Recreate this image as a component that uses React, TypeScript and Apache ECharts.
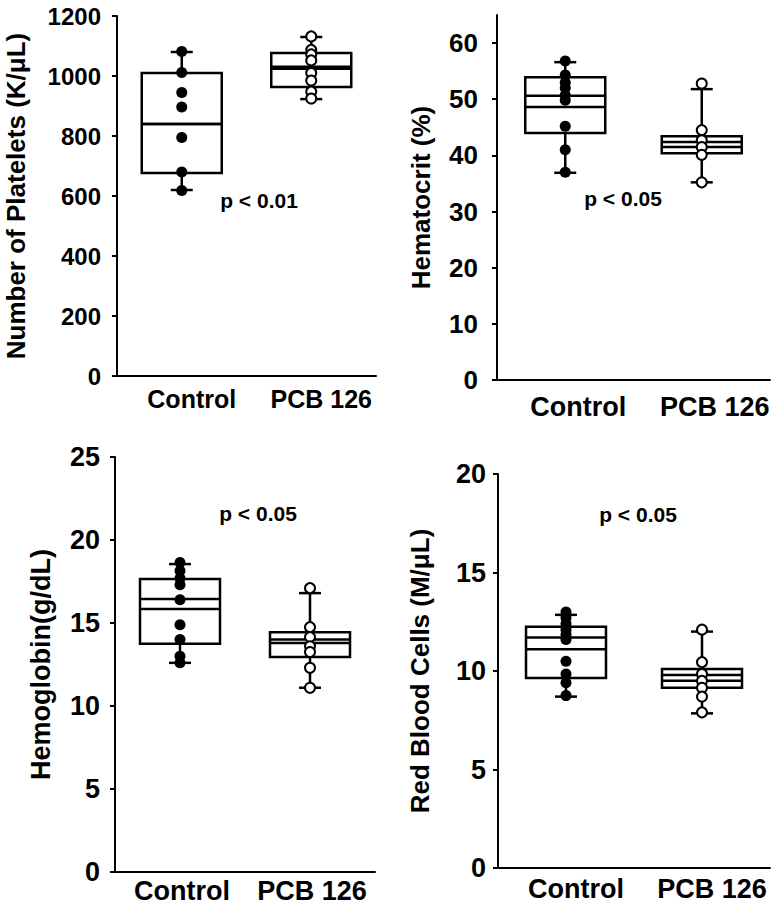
import React, { useEffect, useRef } from "react";
import * as echarts from "echarts";

const categories = ["Control", "PCB 126"];

// box stats: [min, Q1, median, mean, Q3, max]
const plateletsBox = [
  [620, 677, 840, 840, 1010, 1080],
  [923, 963, 1024, 1031, 1077, 1130],
];
const plateletsControl = [1082, 1012, 945, 897, 795, 680, 618];
const plateletsPCB = [1132, 1087, 1072, 1052, 1010, 985, 948, 925];
const plateletsTicks = [0, 200, 400, 600, 800, 1000, 1200];

const hematocritBox = [
  [36.9, 44.0, 48.6, 50.6, 53.9, 56.6],
  [35.2, 40.4, 41.5, 42.4, 43.4, 51.8],
];
const hematocritControl = [56.8, 54.3, 53.0, 52.0, 50.7, 49.8, 45.2, 41.0, 37.0];
const hematocritPCB = [52.8, 44.5, 42.7, 41.5, 40.1, 35.2];
const hematocritTicks = [0, 10, 20, 30, 40, 50, 60];

const hemoglobinBox = [
  [12.6, 13.75, 15.85, 16.45, 17.65, 18.55],
  [11.1, 12.95, 13.8, 14.0, 14.45, 16.8],
];
const hemoglobinControl = [18.65, 18.15, 17.7, 17.3, 16.4, 14.9, 14.0, 13.0, 12.6];
const hemoglobinPCB = [17.1, 14.75, 14.15, 13.6, 13.25, 12.3, 11.1];
const hemoglobinTicks = [0, 5, 10, 15, 20, 25];

const rbcBox = [
  [8.7, 9.65, 11.1, 11.7, 12.25, 12.85],
  [7.85, 9.15, 9.5, 9.8, 10.1, 12.0],
];
const rbcControl = [13.0, 12.7, 12.4, 12.1, 11.85, 11.6, 10.5, 9.85, 9.4, 8.75];
const rbcPCB = [12.1, 10.45, 9.85, 9.5, 9.15, 8.7, 7.9];
const rbcTicks = [0, 5, 10, 15, 20];

const yTitles = [
  "Number of Platelets (K/μL)",
  "Hematocrit (%)",
  "Hemoglobin(g/dL)",
  "Red Blood Cells (M/μL)",
];
const pValues = ["p < 0.01", "p < 0.05", "p < 0.05", "p < 0.05"];

const FONT = "'Liberation Sans', Arial, Helvetica, sans-serif";

const panels = [
  {
    box: plateletsBox, ctrl: plateletsControl, pcb: plateletsPCB, ticks: plateletsTicks,
    max: 1200, grid: { left: 117, top: 16, width: 259, height: 360 },
    nameGap: 88, tickFont: 24, catFont: 25, nameFont: 26, labelMargin: 16, catMargin: 10, catShift: 10,
    p: { x: 259, y: 200 },
  },
  {
    box: hematocritBox, ctrl: hematocritControl, pcb: hematocritPCB, ticks: hematocritTicks,
    max: 65, grid: { left: 497, top: 15, width: 273, height: 365 },
    nameGap: 63, tickFont: 26, catFont: 27, nameFont: 26, labelMargin: 19, catMargin: 13, catShift: 13,
    p: { x: 623, y: 198 },
  },
  {
    box: hemoglobinBox, ctrl: hemoglobinControl, pcb: hemoglobinPCB, ticks: hemoglobinTicks,
    max: 25, grid: { left: 115, top: 457, width: 260, height: 415 },
    nameGap: 61, tickFont: 27, catFont: 27, nameFont: 27, labelMargin: 15, catMargin: 5, catShift: 2,
    p: { x: 258, y: 513 },
  },
  {
    box: rbcBox, ctrl: rbcControl, pcb: rbcPCB, ticks: rbcTicks,
    max: 20, grid: { left: 498, top: 474, width: 272, height: 394 },
    nameGap: 65, tickFont: 27, catFont: 27, nameFont: 26, labelMargin: 12, catMargin: 7, catShift: 10,
    p: { x: 638, y: 514 },
  },
];

function renderBox(params: any, api: any) {
  const idx = api.value(0);
  const [mn, q1, med, mean, q3, mx] = [1, 2, 3, 4, 5, 6].map((i) => api.value(i));
  const x = api.coord([idx, mn])[0];
  const y = (v: number) => api.coord([idx, v])[1];
  const hw = 40;
  const cw = 11;
  const ls = { stroke: "#000", lineWidth: 2.5, fill: null };
  return {
    type: "group",
    children: [
      { type: "line", shape: { x1: x, y1: y(mn), x2: x, y2: y(q1) }, style: ls },
      { type: "line", shape: { x1: x, y1: y(q3), x2: x, y2: y(mx) }, style: ls },
      { type: "line", shape: { x1: x - cw, y1: y(mn), x2: x + cw, y2: y(mn) }, style: ls },
      { type: "line", shape: { x1: x - cw, y1: y(mx), x2: x + cw, y2: y(mx) }, style: ls },
      {
        type: "rect",
        shape: { x: x - hw, y: y(q3), width: hw * 2, height: y(q1) - y(q3) },
        style: { stroke: "#000", lineWidth: 2.5, fill: "rgba(255,255,255,0)" },
      },
      { type: "line", shape: { x1: x - hw, y1: y(med), x2: x + hw, y2: y(med) }, style: ls },
      { type: "line", shape: { x1: x - hw, y1: y(mean), x2: x + hw, y2: y(mean) }, style: ls },
    ],
  };
}

export default function App() {
  const ref = useRef<HTMLDivElement>(null);
  useEffect(() => {
    document.body.style.margin = "0";
    if (!ref.current) return;
    const chart = echarts.init(ref.current, null, { renderer: "svg" });

    const grids: any[] = [];
    const xAxes: any[] = [];
    const yAxes: any[] = [];
    const series: any[] = [];
    const graphics: any[] = [];

    panels.forEach((pn, i) => {
      grids.push({ ...pn.grid, containLabel: false, outerBoundsMode: "none" });
      xAxes.push({
        type: "category",
        gridIndex: i,
        data: categories,
        axisLine: { lineStyle: { color: "#000", width: 2 } },
        axisTick: { show: false },
        axisLabel: {
          interval: 0,
          hideOverlap: false,
          color: "#000",
          fontFamily: FONT,
          fontWeight: "bold",
          fontSize: pn.catFont,
          margin: pn.catMargin,
          padding: [0, 0, 0, pn.catShift * 2],
        },
        splitLine: { show: false },
      });
      yAxes.push({
        type: "value",
        gridIndex: i,
        min: 0,
        max: pn.max,
        interval: pn.ticks[1] - pn.ticks[0],
        name: yTitles[i],
        nameLocation: "middle",
        nameGap: pn.nameGap,
        nameTextStyle: { color: "#000", fontFamily: FONT, fontWeight: "bold", fontSize: pn.nameFont },
        axisLine: { show: true, lineStyle: { color: "#000", width: 2 } },
        axisTick: { show: true, length: 5, lineStyle: { color: "#000", width: 2 }, customValues: pn.ticks },
        axisLabel: {
          color: "#000",
          fontFamily: FONT,
          fontWeight: "bold",
          fontSize: pn.tickFont,
          margin: pn.labelMargin,
          customValues: pn.ticks,
          formatter: (v: number) => (pn.ticks.indexOf(v) >= 0 ? String(v) : ""),
        },
        splitLine: { show: false },
      });
      series.push({
        type: "custom",
        xAxisIndex: i,
        yAxisIndex: i,
        renderItem: renderBox,
        encode: { x: 0, y: [1, 2, 3, 4, 5, 6] },
        data: pn.box.map((b, k) => [k, ...b]),
        z: 2,
      });
      series.push({
        type: "scatter",
        xAxisIndex: i,
        yAxisIndex: i,
        symbol: "circle",
        symbolSize: 11,
        itemStyle: { color: "#000", opacity: 1 },
        data: pn.ctrl.map((v) => [0, v]),
        z: 3,
      });
      series.push({
        type: "scatter",
        xAxisIndex: i,
        yAxisIndex: i,
        symbol: "circle",
        symbolSize: 10,
        itemStyle: { color: "#fff", borderColor: "#000", borderWidth: 2, opacity: 1 },
        data: pn.pcb.map((v) => [1, v]),
        z: 3,
      });
      graphics.push({
        type: "text",
        x: pn.p.x,
        y: pn.p.y,
        style: {
          text: pValues[i],
          fontFamily: FONT,
          fontWeight: "bold",
          fontSize: 21,
          fill: "#000",
          align: "center",
          verticalAlign: "middle",
        },
      });
    });

    chart.setOption({
      animation: false,
      backgroundColor: "#fff",
      grid: grids,
      xAxis: xAxes,
      yAxis: yAxes,
      series,
      graphic: graphics,
    });
    return () => chart.dispose();
  }, []);
  return <div ref={ref} style={{ width: 780, height: 910 }} />;
}
